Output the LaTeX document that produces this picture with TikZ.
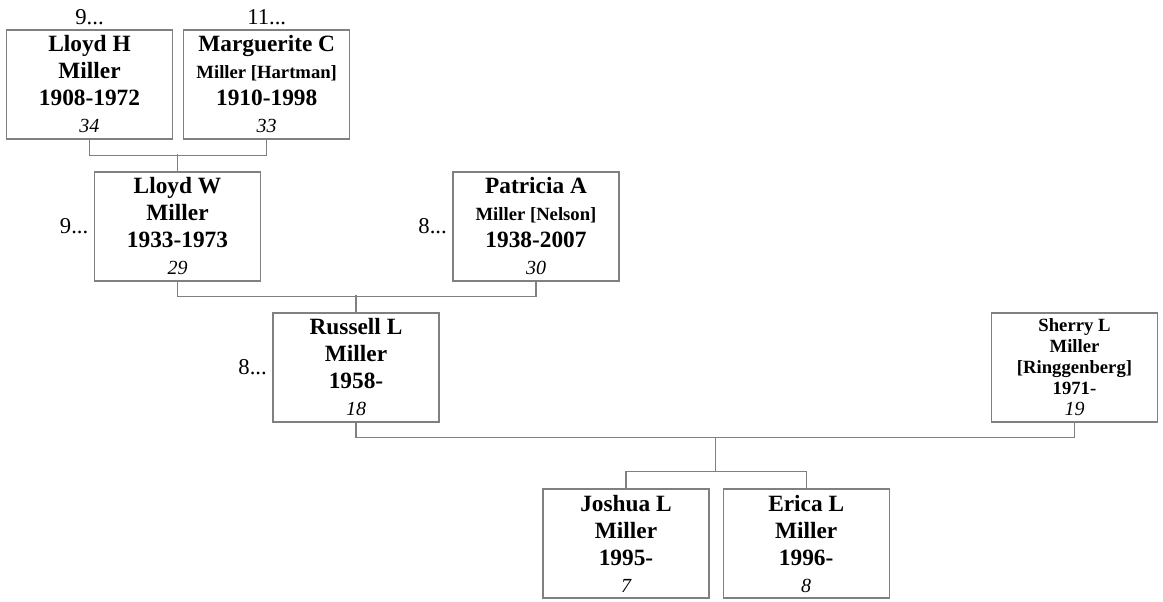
\documentclass[tikz,border=0pt]{standalone}
\usepackage{fontspec}
\setmainfont{Liberation Serif}
\usetikzlibrary{positioning, calc}

\newcommand{\agenum}[1]{{\normalfont\itshape\fontsize{15}{20.25}\selectfont #1}}
\newcommand{\maidname}[1]{{\fontsize{14}{20.25}\selectfont #1}}

\begin{document}
\begin{tikzpicture}[x=0.75pt, y={(0pt,-0.75pt)},
            person/.style={draw=gray, line width=0.9pt, minimum width=124.5pt, minimum height=81.75pt,
                inner sep=1pt, align=center, font=\fontsize{17.5}{20.25}\selectfont\bfseries},
            small person/.style={person, font=\fontsize{14}{15.75}\selectfont\bfseries},
            more/.style={font=\fontsize{17}{20}\selectfont, inner sep=1pt},
            link/.style={draw=gray, line width=0.9pt}]

            \useasboundingbox (0,0) rectangle (1163,602);

            % Grandparents
            \node[person] (lloydh) at (89.5,84.5) {Lloyd H\\Miller\\1908-1972\\\agenum{34}};
            \node[more, above=2pt of lloydh] (lloydh-more) {9...};

            \node[person, right=7.5pt of lloydh] (marguerite) {Marguerite C\\\maidname{Miller [Hartman]}\\1910-1998\\\agenum{33}};
            \node[more, above=2pt of marguerite] (marguerite-more) {11...};

            % Parents
            \node[person] (lloydw) at (177.5,226.5) {Lloyd W\\Miller\\1933-1973\\\agenum{29}};
            \node[more, left=3pt of lloydw] (lloydw-more) {9...};

            \node[person] (patricia) at (536,226.5) {Patricia A\\\maidname{Miller [Nelson]}\\1938-2007\\\agenum{30}};
            \node[more, left=3pt of patricia] (patricia-more) {8...};

            % Couple
            \node[person] (russell) at (356,367.5) {Russell L\\Miller\\1958-\\\agenum{18}};
            \node[more, left=3pt of russell] (russell-more) {8...};

            \node[small person] (sherry) at (1074.5,367.5) {Sherry L\\Miller\\{}[Ringgenberg]\\1971-\\\agenum{19}};

            % Children
            \node[person] (joshua) at (626,543.5) {Joshua L\\Miller\\1995-\\\agenum{7}};
            \node[person, right=9.75pt of joshua] (erica) {Erica L\\Miller\\1996-\\\agenum{8}};

            % Family lines
            \draw[link] (lloydh.south) -- ++(0,16) -| (marguerite.south);
            \draw[link] (lloydw.north) -- ++(0,-17);
            \draw[link] (lloydw.south) -- ++(0,15) -| (patricia.south);
            \draw[link] (russell.north) -- ++(0,-17);
            \draw[link] (russell.south) -- ++(0,15) -| (sherry.south);
            \coordinate (famjoin) at ($(russell.south)!0.5!(sherry.south)+(0,15)$);
            \draw[link] (joshua.north) -- ++(0,-17) -| (erica.north);
            \coordinate (kidsjoin) at ($(joshua.north)!0.5!(erica.north)+(0,-17)$);
            \draw[link] (famjoin) -- (famjoin |- kidsjoin);
        \end{tikzpicture}
\end{document}
